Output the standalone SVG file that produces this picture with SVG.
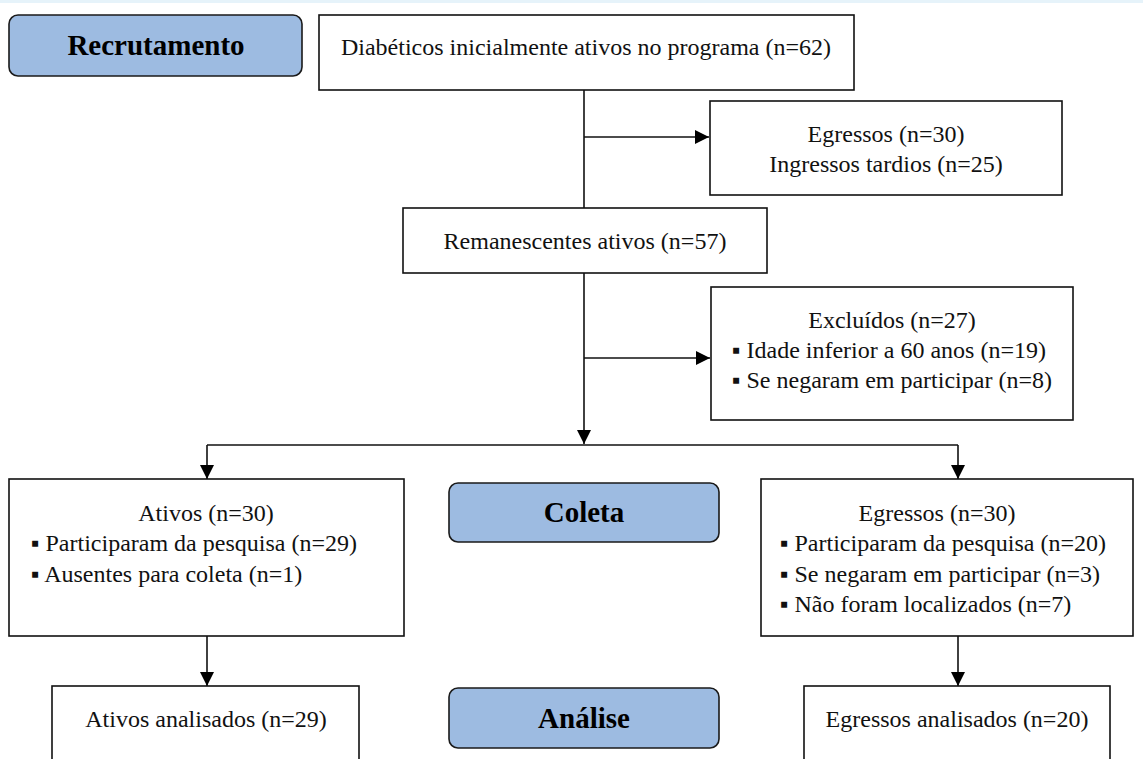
<svg xmlns="http://www.w3.org/2000/svg" width="1143" height="759" viewBox="0 0 1143 759">
<defs>
<marker id="ah" markerWidth="14" markerHeight="14" refX="14" refY="7" orient="auto" markerUnits="userSpaceOnUse">
<path d="M0,0 L14,7 L0,14 Z" fill="#000"/>
</marker>
<style>
.box{fill:#fff;stroke:#111;stroke-width:1.6}
.stage{fill:#9dbbe1;stroke:#1a1a1a;stroke-width:1.6}
.t{font-family:"Liberation Serif","Times New Roman",serif;font-size:24px;fill:#111}
.c{text-anchor:middle}
.b{font-family:"Liberation Serif","Times New Roman",serif;font-size:29px;font-weight:bold;fill:#000;text-anchor:middle}
.ln{fill:none;stroke:#111;stroke-width:1.6}
</style>
</defs>
<rect x="0" y="0" width="1143" height="759" fill="#fff"/>
<rect x="0" y="0" width="1143" height="3" fill="#e6f3fa"/>
<g id="connectors">
<path class="ln" d="M584,90 V208"/>
<path class="ln" d="M584,137 H709" marker-end="url(#ah)"/>
<path class="ln" d="M584,273 V444" marker-end="url(#ah)"/>
<path class="ln" d="M584,358 H710" marker-end="url(#ah)"/>
<path class="ln" d="M207,445 H958"/>
<path class="ln" d="M207,445 V479" marker-end="url(#ah)"/>
<path class="ln" d="M958,445 V479" marker-end="url(#ah)"/>
<path class="ln" d="M207,636 V686" marker-end="url(#ah)"/>
<path class="ln" d="M958,636 V686" marker-end="url(#ah)"/>
</g>
<g id="recrutamento">
<rect class="stage" x="9" y="15" width="293" height="61" rx="9"/>
<text class="b" x="156" y="55">Recrutamento</text>
</g>
<g id="diabeticos">
<rect class="box" x="319" y="15" width="535" height="75"/>
<text class="t c" x="586" y="55">Diabéticos inicialmente ativos no programa (n=62)</text>
</g>
<g id="egressos1">
<rect class="box" x="710" y="101" width="352" height="94"/>
<text class="t c" x="886" y="142">Egressos (n=30)</text>
<text class="t c" x="886" y="172">Ingressos tardios (n=25)</text>
</g>
<g id="remanescentes">
<rect class="box" x="403" y="208" width="364" height="65"/>
<text class="t c" x="585" y="249">Remanescentes ativos (n=57)</text>
</g>
<g id="excluidos">
<rect class="box" x="711" y="287" width="362" height="133"/>
<text class="t c" x="892" y="328">Excluídos (n=27)</text>
<text class="t" x="732" y="358">▪ Idade inferior a 60 anos (n=19)</text>
<text class="t" x="732" y="388">▪ Se negaram em participar (n=8)</text>
</g>
<g id="ativos">
<rect class="box" x="9" y="479" width="395" height="157"/>
<text class="t c" x="206" y="521">Ativos (n=30)</text>
<text class="t" x="31" y="551">▪ Participaram da pesquisa (n=29)</text>
<text class="t" x="31" y="582">▪ Ausentes para coleta (n=1)</text>
</g>
<g id="coleta">
<rect class="stage" x="449" y="483" width="270" height="59" rx="9"/>
<text class="b" x="584" y="522">Coleta</text>
</g>
<g id="egressos2">
<rect class="box" x="761" y="479" width="372" height="157"/>
<text class="t c" x="937" y="521">Egressos (n=30)</text>
<text class="t" x="780" y="551">▪ Participaram da pesquisa (n=20)</text>
<text class="t" x="780" y="582">▪ Se negaram em participar (n=3)</text>
<text class="t" x="780" y="612">▪ Não foram localizados (n=7)</text>
</g>
<g id="ativos-analisados">
<rect class="box" x="52" y="686" width="307" height="90"/>
<text class="t c" x="206" y="727">Ativos analisados (n=29)</text>
</g>
<g id="analise">
<rect class="stage" x="449" y="688" width="270" height="60" rx="9"/>
<text class="b" x="584" y="728">Análise</text>
</g>
<g id="egressos-analisados">
<rect class="box" x="804" y="686" width="306" height="90"/>
<text class="t c" x="957" y="727">Egressos analisados (n=20)</text>
</g>
</svg>
